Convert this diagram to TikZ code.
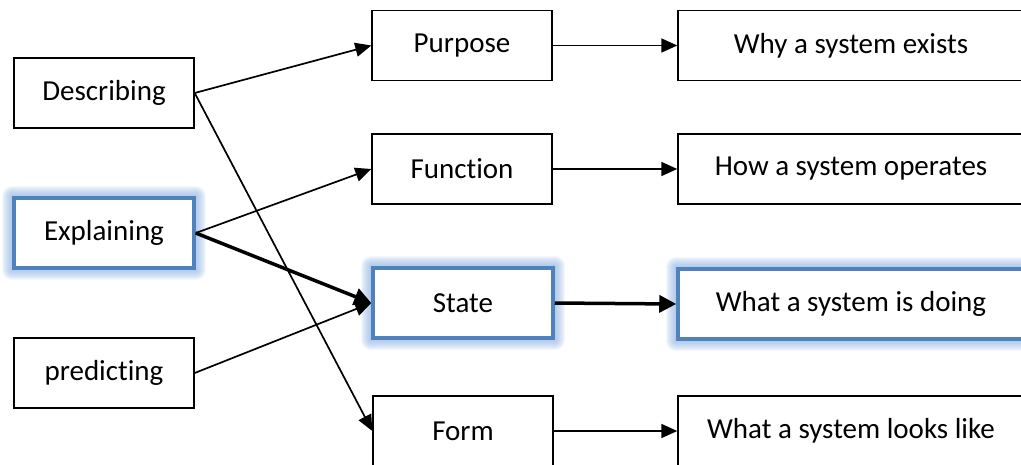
\documentclass[tikz,border=0pt]{standalone}
\usepackage{fontspec}
\setmainfont{Carlito}[Ligatures=NoCommon]
\usetikzlibrary{arrows.meta,backgrounds}
\definecolor{accentblue}{HTML}{4F81BD}
\definecolor{glowblue}{HTML}{8DB3E2}
\begin{document}
\begin{tikzpicture}[x=1pt,y=-1pt,
  box/.style={draw=black, line width=1.4pt, fill=white, minimum width=180pt,
    minimum height=70pt, inner sep=0pt, font=\fontsize{29}{34}\selectfont},
  widebox/.style={box, minimum width=346pt},
  hilite/.style={draw=accentblue, line width=3.5pt},
  link/.style={line width=1.7pt, -{Triangle[length=16pt,width=14pt]}},
  strong/.style={line width=3.5pt, -{Triangle[length=17pt,width=17pt]}},
]
\useasboundingbox (0,0) rectangle (1021,464);

% activities
\node[box]         (desc) at (104,93)  {Describing};
\node[box,hilite]  (expl) at (104,233) {Explaining};
\node[box]         (pred) at (104,373) {predicting};

% aspects of a system
\node[box]         (purp)  at (462,45.5) {Purpose};
\node[box]         (func)  at (462,169)  {Function};
\node[box,hilite]  (state) at (463,303)  {State};
\node[box]         (form)  at (463,431)  {Form};

% what each aspect tells
\node[widebox]        (why)   at (851,45.5) {Why a system exists};
\node[widebox]        (how)   at (851,169)  {How a system operates};
\node[widebox,hilite] (doing) at (851,304)  {What a system is doing};
\node[widebox]        (looks) at (851,431)  {What a system looks like};

% soft glow round the highlighted boxes
\begin{scope}[on background layer]
  \foreach \n in {expl,state,doing}{
    \foreach \r in {1,...,10}{
      \draw[glowblue, opacity=0.1, line join=round, line width={2*\r pt}]
        (\n.south west) rectangle (\n.north east);
    }
  }
\end{scope}

% connectors
\draw[link]   (desc.east) -- (purp.west);
\draw[link]   (desc.east) -- (form.west);
\draw[link]   (expl.east) -- (func.west);
\draw[strong] (expl.east) -- (state.west);
\draw[link]   (pred.east) -- (state.west);

\draw[link]   (purp.east)  -- (why.west);
\draw[link]   (func.east)  -- (how.west);
\draw[strong] (state.east) -- (doing.west);
\draw[link]   (form.east)  -- (looks.west);
\end{tikzpicture}
\end{document}
